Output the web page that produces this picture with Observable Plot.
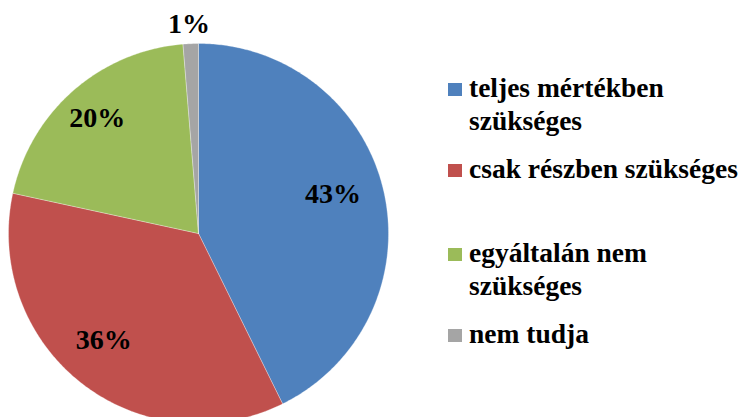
<!DOCTYPE html>
<html>
<head>
<meta charset="utf-8">
<script src="https://cdn.jsdelivr.net/npm/d3@7"></script>
<script src="https://cdn.jsdelivr.net/npm/@observablehq/plot@0.6"></script>
</head>
<body style="margin:0;padding:0;background:#fff">
<div id="pieFrame" style="position:relative;width:745px;height:417px;overflow:hidden"></div>
<script>
const categories = ["teljes mértékben szükséges", "csak részben szükséges", "egyáltalán nem szükséges", "nem tudja"];
const values = [42.7, 35.7, 20.3, 1.3];
const colors = ["#4F81BD", "#C0504D", "#9BBB59", "#A5A5A5"];

const FONT = "Liberation Serif";

const rows = categories.map((c, i) => ({cat: c, value: values[i]}));
const arcs = d3.pie().sort(null).value(d => d.value)(rows);

// slice outlines on the unit circle (angle 0 at 12 o'clock, clockwise)
const pts = [];
for (const a of arcs) {
  const n = Math.max(4, Math.ceil((a.endAngle - a.startAngle) / 0.01));
  pts.push({cat: a.data.cat, x: 0, y: 0});
  for (let k = 0; k <= n; k++) {
    const t = a.startAngle + (a.endAngle - a.startAngle) * k / n;
    pts.push({cat: a.data.cat, x: Math.sin(t), y: Math.cos(t)});
  }
  pts.push({cat: a.data.cat, x: 0, y: 0});
}

const labels = arcs.map(a => {
  const m = (a.startAngle + a.endAngle) / 2;
  const outside = a.data.value < 5;
  const r = outside ? 1.11 : 0.76;
  return {x: r * Math.sin(m), y: r * Math.cos(m), text: Math.round(a.data.value) + "%", outside};
});

const chart = Plot.plot({
  width: 745,
  height: 417,
  x: {domain: [-1, 1], range: [8, 388], axis: null},
  y: {domain: [-1, 1], range: [423, 43], axis: null},
  color: {domain: categories, range: colors},
  style: {background: "white"},
  marks: [
    Plot.line(pts, {x: "x", y: "y", z: "cat", fill: "cat", stroke: "white", strokeWidth: 0.5, strokeOpacity: 0.6, curve: "linear"}),
    Plot.text(labels.filter(d => !d.outside), {x: "x", y: "y", text: "text", dx: -6, dy: -7,
      fontSize: 28, fontWeight: "bold", fontFamily: FONT, fill: "black"}),
    Plot.text(labels.filter(d => d.outside), {x: "x", y: "y", text: "text", dx: -1, dy: 1,
      fontSize: 28, fontWeight: "bold", fontFamily: FONT, fill: "black"})
  ]
});
const frame = document.getElementById("pieFrame");
chart.style.position = "absolute";
chart.style.left = "0px";
chart.style.top = "0px";
frame.appendChild(chart);

// legend
const legendTops = [71, 152, 236, 317];
categories.forEach((c, i) => {
  const d = document.createElement("div");
  d.style.position = "absolute";
  d.style.left = "448px";
  d.style.top = legendTops[i] + "px";
  d.style.width = "300px";
  d.style.fontFamily = FONT;
  d.style.fontWeight = "bold";
  d.style.fontSize = "27.5px";
  d.style.lineHeight = "33px";
  d.style.color = "#000";
  const sw = document.createElement("div");
  sw.style.cssText = `position:absolute;left:0;top:12px;width:14px;height:13px;background:${colors[i]}`;
  const tx = document.createElement("div");
  tx.style.marginLeft = "21px";
  tx.style.width = "277px";
  tx.textContent = c;
  d.appendChild(sw);
  d.appendChild(tx);
  frame.appendChild(d);
});
</script>
</body>
</html>
